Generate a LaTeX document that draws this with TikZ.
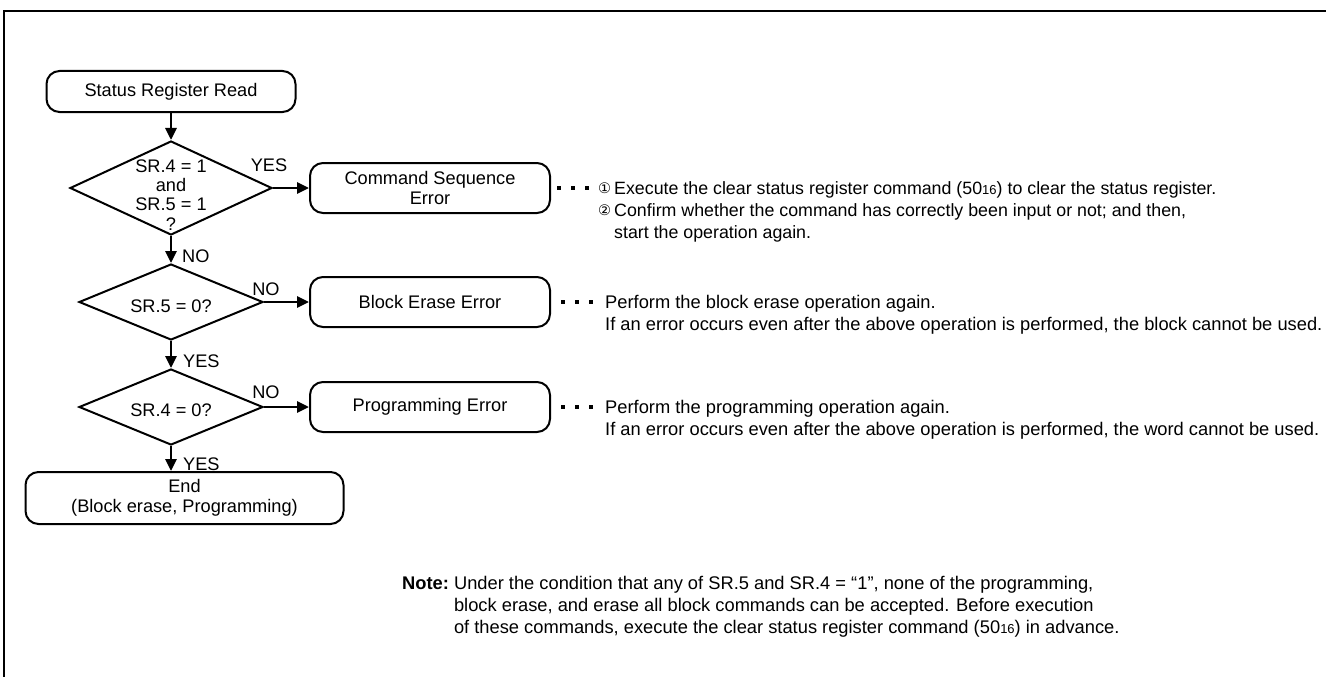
\documentclass[tikz,border=0pt]{standalone}
\usepackage{fontspec}
\setmainfont{Liberation Sans}
\newfontfamily\circfont{DejaVu Sans}
\usetikzlibrary{arrows.meta,positioning,shapes.geometric}

\newcommand{\hexsub}[1]{{\fontsize{13}{13}\selectfont #1}}
\newcommand{\circnum}[1]{\makebox[16pt][l]{\raisebox{1pt}{\fontsize{14.5}{14.5}\selectfont\circfont #1}}}

\begin{document}
\begin{tikzpicture}[x=1pt, y=-1pt, ->, >={Triangle[length=12pt,width=11pt]},
  every node/.style={font=\fontsize{18.2}{19.5}\selectfont},
  term/.style={draw, rounded corners=13pt, line width=2pt, inner sep=0pt},
  errbox/.style={term, minimum width=240pt, minimum height=50pt, align=center},
  decision/.style={draw, diamond, line width=2pt, inner sep=0pt},
  flow/.style={line width=2.8pt},
  lbl/.style={inner sep=0pt},
  dots/.style={-, line width=4pt, dash pattern=on 4pt off 10pt, dash phase=8pt, shorten >=8pt},
  remark/.style={inner sep=0pt, anchor=base west, font=\fontsize{18.3}{22}\selectfont}]

\useasboundingbox (0,0) rectangle (1326,677);
\draw[-, line width=2.4pt] (4,690) -- (4,11) -- (1340,11);

% main column
\node[term, minimum width=249pt, minimum height=41pt] (srr) at (171,91.5) {Status Register Read};
\node[decision, minimum width=202pt, minimum height=94pt, below=27pt of srr] (d1) {};
\node[decision, minimum width=184pt, minimum height=76pt, below=27pt of d1] (d2) {};
\node[decision, minimum width=184pt, minimum height=76pt, below=27pt of d2] (d3) {};
\node[term, minimum width=318pt, minimum height=52pt, align=center, below=25pt of d3, xshift=13.5pt] (fin) {End\\(Block erase, Programming)};

\node[lbl, align=center, font=\fontsize{18.2}{19.3}\selectfont] (d1t) at ([yshift=-6.75pt]d1.center) {SR.4 = 1\\and\\SR.5 = 1\\?};
\node[lbl] (d2t) at ([yshift=-4pt]d2.center) {SR.5 = 0?};
\node[lbl] (d3t) at ([yshift=-3pt]d3.center) {SR.4 = 0?};

% error boxes
\node[errbox, right=36pt of d1] (cse) {Command Sequence\\Error};
\node[errbox] (bee) at (cse |- d2) {Block Erase Error};
\node[errbox] (pe) at (cse |- d3) {Programming Error};

\draw[flow] (srr) -- (d1);
\draw[flow] (d1) -- (d2);
\draw[flow] (d2) -- (d3);
\draw[flow] (d3.south) -- (d3.south |- fin.north);
\draw[flow] (d1) -- (cse);
\draw[flow] (d2) -- (bee);
\draw[flow] (d3) -- (pe);

\node[lbl, anchor=base] (y1) at ([xshift=-4pt,yshift=17pt]d1.east) {YES};
\node[lbl, anchor=base] (n2) at ([xshift=2pt,yshift=7pt]d2.east) {NO};
\node[lbl, anchor=base] (n3) at ([xshift=2pt,yshift=9pt]d3.east) {NO};
\node[lbl, anchor=base west] (n1) at ([xshift=11pt,yshift=-26pt]d1.south) {NO};
\node[lbl, anchor=base west] (y2) at ([xshift=12pt,yshift=-26pt]d2.south) {YES};
\node[lbl, anchor=base west] (y3) at ([xshift=12pt,yshift=-24pt]d3.south) {YES};

% remarks
\node[remark, right=47pt of cse.east, anchor=base west, yshift=-6.5pt, font=\fontsize{17.8}{22}\selectfont] (csen) {\begin{tabular}[t]{@{}l@{}l@{}}
  \circnum{①} & Execute the clear status register command (50\hexsub{16}) to clear the status register.\\
  \circnum{②} & Confirm whether the command has correctly been input or not; and then,\\
  & start the operation again.\end{tabular}};
\node[remark, right=54pt of bee.east, anchor=base west, yshift=-6.5pt] (been) {\begin{tabular}[t]{@{}l@{}}
  Perform the block erase operation again.\\
  If an error occurs even after the above operation is performed, the block cannot be used.\end{tabular}};
\node[remark, right=54pt of pe.east, anchor=base west, yshift=-6.5pt] (pen) {\begin{tabular}[t]{@{}l@{}}
  Perform the programming operation again.\\
  If an error occurs even after the above operation is performed, the word cannot be used.\end{tabular}};

\draw[dots] (cse.east) -- (cse.east -| csen.west);
\draw[dots, dash phase=4pt] (bee.east) -- (bee.east -| been.west);
\draw[dots, dash phase=4pt] (pe.east) -- (pe.east -| pen.west);

\node[remark] (note) at (402,589.5) {\begin{tabular}[t]{@{}l@{\ }l@{}}
  \textbf{Note:} & Under the condition that any of SR.5 and SR.4 = “1”, none of the programming,\\
  & block erase, and erase all block commands can be accepted. Before execution\\
  & of these commands, execute the clear status register command (50\hexsub{16}) in advance.\end{tabular}};

\end{tikzpicture}
\end{document}
